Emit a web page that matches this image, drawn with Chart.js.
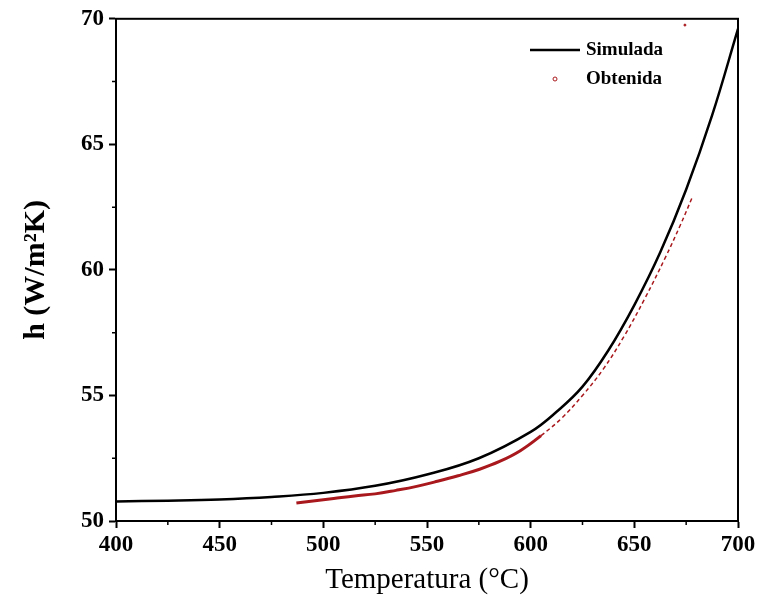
<!DOCTYPE html>
<html>
<head>
<meta charset="utf-8">
<script src="https://cdn.jsdelivr.net/npm/chart.js@4"></script>
<style>
  html, body { margin: 0; padding: 0; background: #fff; }
  #wrap { width: 763px; height: 610px; }
</style>
</head>
<body>
<div id="wrap"><canvas id="myChart" width="763" height="610"></canvas></div>
<script>
// Simulada (black line)
const simTemps = [400, 425, 450, 475, 500, 525, 550, 575, 600, 612.5, 625, 637.5, 650, 662.5, 675, 687.5, 700];
const simValues = [50.78, 50.81, 50.86, 50.96, 51.12, 51.40, 51.85, 52.50, 53.55, 54.35, 55.35, 56.8, 58.6, 60.7, 63.2, 66.15, 69.6];

// Obtenida (red measured points)
const obtTemps = [487, 495, 505, 515, 525, 535, 545, 555, 565, 575, 585, 595, 605, 615, 625, 635, 645, 655, 665, 672, 678];
const obtValues = [50.72, 50.80, 50.90, 51.00, 51.08, 51.22, 51.38, 51.58, 51.80, 52.05, 52.37, 52.80, 53.40, 54.10, 55.0, 56.05, 57.35, 58.85, 60.5, 61.75, 62.9];

// stray measured point near the top
const strayTemps = [674.4];
const strayValues = [69.75];

const xTicks = [400, 450, 500, 550, 600, 650, 700];
const yTicks = [50, 55, 60, 65, 70];

const RED = '#a8181c';
const SERIF = '"Liberation Serif", "Times New Roman", serif';

const pts = (xs, ys) => xs.map((x, i) => ({ x: x, y: ys[i] }));

// frame, minor ticks and the in-plot legend
const framePlugin = {
    id: 'frame',
    afterDraw(chart) {
        const { ctx, chartArea: a, scales } = chart;
        ctx.save();
        ctx.strokeStyle = '#000';
        ctx.lineWidth = 2;
        ctx.strokeRect(a.left, a.top, a.right - a.left, a.bottom - a.top);

        // minor ticks
        ctx.lineWidth = 1.5;
        ctx.beginPath();
        for (let v = 425; v < 700; v += 50) {
            const px = scales.x.getPixelForValue(v);
            ctx.moveTo(px, a.bottom);
            ctx.lineTo(px, a.bottom + 4);
        }
        for (let v = 52.5; v < 70; v += 5) {
            const py = scales.y.getPixelForValue(v);
            ctx.moveTo(a.left, py);
            ctx.lineTo(a.left - 4, py);
        }
        ctx.stroke();

        // legend
        const ds = chart.data.datasets;
        ctx.font = 'bold 19px ' + SERIF;
        ctx.textBaseline = 'middle';
        ctx.fillStyle = '#000';
        ctx.lineWidth = 2.5;
        ctx.beginPath();
        ctx.moveTo(530, 50);
        ctx.lineTo(580, 50);
        ctx.stroke();
        ctx.fillText(ds[0].label, 586, 50);

        ctx.strokeStyle = RED;
        ctx.lineWidth = 1;
        ctx.beginPath();
        ctx.arc(555, 79, 2, 0, Math.PI * 2);
        ctx.stroke();
        ctx.fillText(ds[1].label, 586, 79);
        ctx.restore();
    }
};

const ctx = document.getElementById('myChart').getContext('2d');
const myChart = new Chart(ctx, {
    type: 'scatter',
    data: {
        datasets: [{
            label: 'Simulada',
            data: pts(simTemps, simValues),
            showLine: true,
            borderColor: '#000',
            borderWidth: 2.5,
            pointRadius: 0,
            tension: 0.4,
            fill: false
        }, {
            label: 'Obtenida',
            data: pts(obtTemps, obtValues),
            showLine: true,
            borderColor: RED,
            backgroundColor: RED,
            borderWidth: 3,
            pointRadius: 0,
            tension: 0.4,
            segment: {
                borderDash: c => c.p0.parsed.x >= 600 ? [4, 3] : undefined,
                borderWidth: c => c.p0.parsed.x >= 600 ? 1.5 : 3
            },
            fill: false
        }, {
            label: 'Obtenida (extra)',
            data: pts(strayTemps, strayValues),
            pointRadius: 1,
            pointBackgroundColor: RED,
            pointBorderColor: RED
        }]
    },
    options: {
        responsive: false,
        animation: false,
        layout: { padding: { top: 17, right: 25, left: 0, bottom: 0 } },
        plugins: {
            legend: { display: false },
            tooltip: { enabled: false }
        },
        scales: {
            x: {
                type: 'linear',
                min: 400,
                max: 700,
                afterBuildTicks: s => { s.ticks = xTicks.map(v => ({ value: v })); },
                afterFit: s => { s.height = 89; },
                grid: { drawOnChartArea: false, drawTicks: true, tickLength: 7, tickWidth: 2, color: '#000' },
                border: { display: true, color: '#000', width: 2 },
                ticks: {
                    color: '#000',
                    padding: 3,
                    font: { family: SERIF, size: 23, weight: 'bold' }
                },
                title: {
                    display: true,
                    text: 'Temperatura (°C)',
                    color: '#000',
                    font: { family: SERIF, size: 29 },
                    padding: { top: 0, bottom: 12 }
                }
            },
            y: {
                type: 'linear',
                min: 50,
                max: 70,
                afterBuildTicks: s => { s.ticks = yTicks.map(v => ({ value: v })); },
                afterFit: s => { s.width = 116; },
                grid: { drawOnChartArea: false, drawTicks: true, tickLength: 7, tickWidth: 2, color: '#000' },
                border: { display: true, color: '#000', width: 2 },
                ticks: {
                    color: '#000',
                    padding: 5,
                    font: { family: SERIF, size: 23, weight: 'bold' }
                },
                title: {
                    display: true,
                    text: 'h (W/m²K)',
                    color: '#000',
                    font: { family: SERIF, size: 30, weight: 'bold' },
                    padding: { top: 18, bottom: 0 }
                }
            }
        }
    },
    plugins: [framePlugin]
});
</script>
</body>
</html>
